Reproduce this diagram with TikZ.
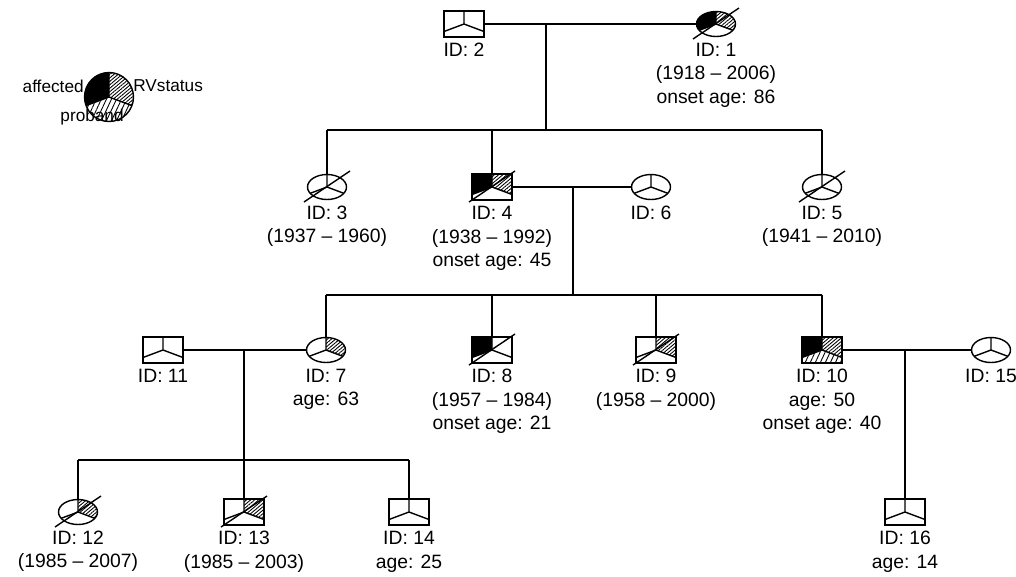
\documentclass[tikz,border=0pt]{standalone}
\usepackage{fontspec}
\setmainfont{Liberation Sans}
\usepackage{xcolor}
\usetikzlibrary{positioning,shapes.geometric,patterns.meta}
\definecolor{ink}{HTML}{000000}

\newcommand{\pedfont}{\fontsize{11}{13.4}\selectfont}
\newcommand{\keyfont}{\fontsize{9.8}{12}\selectfont}
% fill the sectors of one symbol, then its three dividers
\newcommand{\pedsec}[1]{%
  \begin{scope}[shift={(path picture bounding box.center)}]
    \foreach \f in {#1}{\fill[\f];}
    \draw[ln] (0,-30)--(0,0)--(-40,15) (0,0)--(40,15);
  \end{scope}}

\begin{document}
\begin{tikzpicture}[x=0.02cm,y=-0.02cm,
  ln/.style={draw=ink,line width=0.8pt},
  nosec/.style={},
  aff/.style={fill=ink,insert path={(0,0)--(0,-30)--(-40,-30)--(-40,15)--cycle}},
  rvs/.style={pattern={Lines[angle=40,distance=1.5pt,line width=0.5pt]},
              insert path={(0,0)--(0,-30)--(40,-30)--(40,15)--cycle}},
  prb/.style={pattern={Lines[angle=65,distance=2.6pt,line width=0.5pt]},
              insert path={(0,0)--(-40,15)--(-40,30)--(40,30)--(40,15)--cycle}},
  male/.style={rectangle,ln,minimum width=0.8cm,minimum height=0.52cm,
               inner sep=0pt,path picture={\pedsec{#1}}},
  male/.default=nosec,
  female/.style={ellipse,ln,minimum width=0.78cm,minimum height=0.5cm,
                 inner sep=0pt,path picture={\pedsec{#1}}},
  female/.default=nosec,
  keypie/.style={circle,ln,minimum size=0.98cm,inner sep=0pt,
                 path picture={\pedsec{aff,rvs,prb}}},
  lab/.style={font=\pedfont,align=center,inner sep=0pt},
  keylab/.style={font=\keyfont,inner sep=0pt}
]
\useasboundingbox (0,0) rectangle (1016,576);

% key
\node[keypie] (key) at (109,97) {};
\node[keylab,anchor=east] (kaff) at (84,86) {affected};
\node[keylab,anchor=west] (krv) at (133,86) {RVstatus};
\node[keylab,anchor=east] (kprb) at (124,117) {proband};

% generation 1
\node[male] (p2) at (464,24) {};
\node[female={aff,rvs}] (p1) at (716,24) {};
% generation 2
\node[female] (p3) at (327,187) {};
\node[male={aff,rvs}] (p4) at (492,187) {};
\node[female] (p6) at (651,187) {};
\node[female] (p5) at (822,187) {};
% generation 3
\node[male] (p11) at (163,350) {};
\node[female=rvs] (p7) at (326,350) {};
\node[male=aff] (p8) at (492,350) {};
\node[male=rvs] (p9) at (656,350) {};
\node[male={aff,rvs,prb}] (p10) at (822,350) {};
\node[female] (p15) at (991,350) {};
% generation 4
\node[female=rvs] (p12) at (78,512) {};
\node[male=rvs] (p13) at (244,512) {};
\node[male] (p14) at (409,512) {};
\node[male] (p16) at (905,512) {};

% deceased
\foreach \n in {p1,p3,p4,p5,p8,p9,p12,p13}
  \draw[ln] ([shift={(-23,15)}]\n.center) -- ([shift={(23,-16)}]\n.center);

% labels
\node[lab,below=3pt of p2] (t2) {ID: 2};
\node[lab,below=3pt of p1] (t1) {ID: 1\\(1918 \textendash{} 2006)\\onset age: 86};
\node[lab,below=3pt of p3] (t3) {ID: 3\\(1937 \textendash{} 1960)};
\node[lab,below=3pt of p4] (t4) {ID: 4\\(1938 \textendash{} 1992)\\onset age: 45};
\node[lab,below=3pt of p6] (t6) {ID: 6};
\node[lab,below=3pt of p5] (t5) {ID: 5\\(1941 \textendash{} 2010)};
\node[lab,below=3pt of p11] (t11) {ID: 11};
\node[lab,below=3pt of p7] (t7) {ID: 7\\age: 63};
\node[lab,below=3pt of p8] (t8) {ID: 8\\(1957 \textendash{} 1984)\\onset age: 21};
\node[lab,below=3pt of p9] (t9) {ID: 9\\(1958 \textendash{} 2000)};
\node[lab,below=3pt of p10] (t10) {ID: 10\\age: 50\\onset age: 40};
\node[lab,below=3pt of p15] (t15) {ID: 15};
\node[lab,below=3pt of p12] (t12) {ID: 12\\(1985 \textendash{} 2007)};
\node[lab,below=3pt of p13] (t13) {ID: 13\\(1985 \textendash{} 2003)};
\node[lab,below=3pt of p14] (t14) {ID: 14\\age: 25};
\node[lab,below=3pt of p16] (t16) {ID: 16\\age: 14};

% marriages and sibships
\draw[ln] (p2) -- (p1);
\coordinate (m1) at (546,24);
\coordinate (s1) at (546,130);
\draw[ln] (m1) -- (s1);
\draw[ln] (p3 |- s1) -- (p5 |- s1);
\foreach \c in {p3,p4,p5} \draw[ln] (\c |- s1) -- (\c.north);

\draw[ln] (p4) -- (p6);
\coordinate (m2) at (573,187);
\coordinate (s2) at (573,295);
\draw[ln] (m2) -- (s2);
\draw[ln] (p7 |- s2) -- (p10 |- s2);
\foreach \c in {p7,p8,p9,p10} \draw[ln] (\c |- s2) -- (\c.north);

\draw[ln] (p11) -- (p7);
\coordinate (m3) at (244,350);
\coordinate (s3) at (244,460);
\draw[ln] (m3) -- (s3);
\draw[ln] (p12 |- s3) -- (p14 |- s3);
\foreach \c in {p12,p13,p14} \draw[ln] (\c |- s3) -- (\c.north);

\draw[ln] (p10) -- (p15);
\coordinate (m4) at (905,350);
\draw[ln] (m4) -- (p16.north);
\end{tikzpicture}
\end{document}
